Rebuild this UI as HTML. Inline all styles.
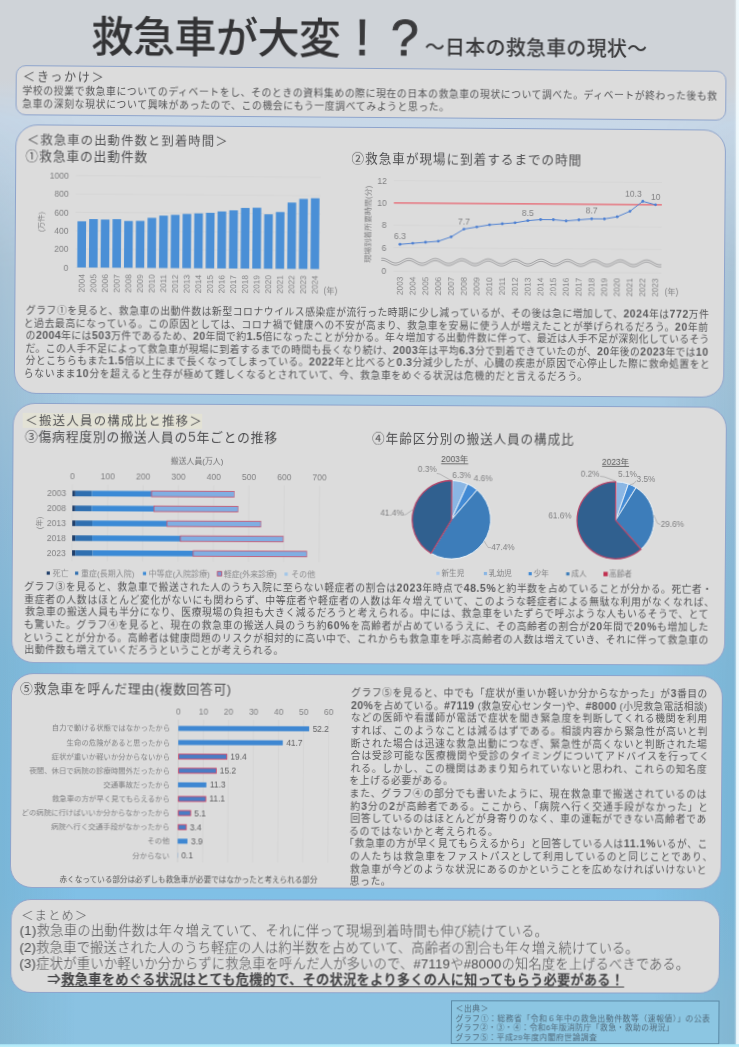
<!DOCTYPE html>
<html lang="ja"><head><meta charset="utf-8"><title>救急車が大変！？</title>
<style>
html,body{margin:0;padding:0;}
body{width:739px;height:1047px;overflow:hidden;position:relative;background:#eaf6fb;
 font-family:"Liberation Sans","Noto Sans CJK JP",sans-serif;color:#4e4e50;}
.t{font-weight:400;color:#535355;}
#poster{position:absolute;left:0;top:0;width:739px;height:1047px;transform-origin:0 0;filter:blur(0.3px);transform:matrix3d(1.00536277,0.00857046193,0,7.63127946e-06,-0.00602171815,1.00313472,0,2.0370582e-06,0,0,1,0,1.12092474,-1.21924433,0,1);}
#bg{position:absolute;left:-30px;top:-30px;width:800px;height:1110px;
 background:linear-gradient(180deg,#cfd3d8 0px,#cfd3d8 110px,#c8d8e8 150px,#b8d0e4 280px,#a6cae4 430px,#98c4e4 530px,#84c0e4 697px,#80c0e6 810px,#80c0e6 923px,#8ac2e2 1030px,#8cc2e0 1110px);}
#vig{position:absolute;left:-30px;top:-30px;width:800px;height:1110px;
 background:linear-gradient(90deg,rgba(70,100,100,0.17) 0px,rgba(70,100,100,0.10) 40px,rgba(70,100,100,0) 110px,rgba(70,100,100,0) 690px,rgba(70,100,100,0.10) 760px,rgba(70,100,100,0.17) 800px);
 -webkit-mask-image:linear-gradient(180deg,transparent 120px,#000 300px);mask-image:linear-gradient(180deg,transparent 120px,#000 300px);}
.box{position:absolute;background:#dcdcdc;border:1px solid #8ea4cc;box-sizing:border-box;}
.t{position:absolute;white-space:nowrap;}
.b{font-family:"Liberation Sans","Noto Sans CJK JP",sans-serif;font-weight:bold;font-size:1.08em;color:#5a5a5c;}
svg{position:absolute;overflow:visible;}
svg text{font-family:"Liberation Sans","Noto Sans CJK JP",sans-serif;font-weight:400;}
svg text.j{font-weight:300;}
</style></head><body>
<div id="poster"><div id="bg"></div><div id="vig"></div>
<div class="t" id="title" style="left:90.00px;top:12.66px;font-size:42px;line-height:50.40px;color:#343436;font-weight:500;letter-spacing:-0.583px;">救急車が大変</div>
<div class="t" style="left:340.5px;top:11.2px;width:40px;text-align:center;font-family:'Liberation Sans',sans-serif;font-size:50px;line-height:50px;color:#3a3a3c;font-weight:normal;-webkit-text-stroke:0.9px #3a3a3c;">!</div>
<div class="t" style="left:382.8px;top:11.2px;width:40px;text-align:center;font-family:'Liberation Sans',sans-serif;font-size:50px;line-height:50px;color:#3a3a3c;font-weight:normal;-webkit-text-stroke:0.9px #3a3a3c;">?</div>
<div class="t" id="sub" style="left:423.00px;top:32.90px;font-size:20px;line-height:24.00px;color:#3a3a3c;font-weight:500;letter-spacing:0.300px;">～日本の救急車の現状～</div>
<div class="box" style="left:15px;top:66px;width:710.9px;height:50px;border-radius:10px;"></div>
<div class="t" id="kh" style="left:22.10px;top:70.55px;font-size:12.2px;line-height:14.64px;color:#545456;letter-spacing:1.600px;">＜きっかけ＞</div>
<div class="t" id="k1" style="left:21.70px;top:86.41px;font-size:9.8px;line-height:11.76px;letter-spacing:0.614px;">学校の授業で救急車についてのディベートをし、そのときの資料集めの際に現在の日本の救急車の現状について調べた。ディベートが終わった後も救</div>
<div class="t" id="k2" style="left:21.60px;top:98.91px;font-size:9.8px;line-height:11.76px;letter-spacing:0.649px;">急車の深刻な現状について興味があったので、この機会にもう一度調べてみようと思った。</div>
<div class="box" style="left:14.5px;top:124.5px;width:711.9px;height:269px;border-radius:22px;"></div>
<div class="t" id="b1h" style="left:26.40px;top:134.33px;font-size:12.4px;line-height:14.88px;color:#545456;letter-spacing:1.019px;">＜救急車の出動件数と到着時間＞</div>
<div class="t" id="b1h1" style="left:25.30px;top:149.82px;font-size:12.6px;line-height:15.12px;color:#4e4e50;letter-spacing:0.961px;">①救急車の出動件数</div>
<div class="t" id="b1h2" style="left:350.50px;top:149.82px;font-size:12.6px;line-height:15.12px;color:#4e4e50;letter-spacing:1.000px;">②救急車が現場に到着するまでの時間</div>
<svg width="739" height="1047" viewBox="0 0 739 1047" style="left:0;top:0;"><line x1="75.6" x2="320" y1="267.50" y2="267.50" stroke="#d3d3d3" stroke-width="0.7"/><text x="68.50" y="270.60" font-size="8.6" fill="#808082" text-anchor="end" >0</text><line x1="75.6" x2="320" y1="249.16" y2="249.16" stroke="#d3d3d3" stroke-width="0.7"/><text x="68.50" y="252.26" font-size="8.6" fill="#808082" text-anchor="end" >200</text><line x1="75.6" x2="320" y1="230.82" y2="230.82" stroke="#d3d3d3" stroke-width="0.7"/><text x="68.50" y="233.92" font-size="8.6" fill="#808082" text-anchor="end" >400</text><line x1="75.6" x2="320" y1="212.48" y2="212.48" stroke="#d3d3d3" stroke-width="0.7"/><text x="68.50" y="215.58" font-size="8.6" fill="#808082" text-anchor="end" >600</text><line x1="75.6" x2="320" y1="194.14" y2="194.14" stroke="#d3d3d3" stroke-width="0.7"/><text x="68.50" y="197.24" font-size="8.6" fill="#808082" text-anchor="end" >800</text><line x1="75.6" x2="320" y1="175.80" y2="175.80" stroke="#d3d3d3" stroke-width="0.7"/><text x="68.50" y="178.90" font-size="8.6" fill="#808082" text-anchor="end" >1000</text><rect x="77.40" y="221.37" width="8.6" height="46.13" fill="#4a8fd6"/><text x="84.70" y="274.00" font-size="8.3" fill="#808082" text-anchor="end" transform="rotate(-90 84.70 274)">2004</text><rect x="89.04" y="219.08" width="8.6" height="48.42" fill="#4a8fd6"/><text x="96.34" y="274.00" font-size="8.3" fill="#808082" text-anchor="end" transform="rotate(-90 96.34 274)">2005</text><rect x="100.68" y="219.45" width="8.6" height="48.05" fill="#4a8fd6"/><text x="107.98" y="274.00" font-size="8.3" fill="#808082" text-anchor="end" transform="rotate(-90 107.98 274)">2006</text><rect x="112.32" y="218.99" width="8.6" height="48.51" fill="#4a8fd6"/><text x="119.62" y="274.00" font-size="8.3" fill="#808082" text-anchor="end" transform="rotate(-90 119.62 274)">2007</text><rect x="123.96" y="220.73" width="8.6" height="46.77" fill="#4a8fd6"/><text x="131.26" y="274.00" font-size="8.3" fill="#808082" text-anchor="end" transform="rotate(-90 131.26 274)">2008</text><rect x="135.60" y="220.55" width="8.6" height="46.95" fill="#4a8fd6"/><text x="142.90" y="274.00" font-size="8.3" fill="#808082" text-anchor="end" transform="rotate(-90 142.90 274)">2009</text><rect x="147.24" y="217.43" width="8.6" height="50.07" fill="#4a8fd6"/><text x="154.54" y="274.00" font-size="8.3" fill="#808082" text-anchor="end" transform="rotate(-90 154.54 274)">2010</text><rect x="158.88" y="215.14" width="8.6" height="52.36" fill="#4a8fd6"/><text x="166.18" y="274.00" font-size="8.3" fill="#808082" text-anchor="end" transform="rotate(-90 166.18 274)">2011</text><rect x="170.52" y="214.31" width="8.6" height="53.19" fill="#4a8fd6"/><text x="177.82" y="274.00" font-size="8.3" fill="#808082" text-anchor="end" transform="rotate(-90 177.82 274)">2012</text><rect x="182.16" y="213.31" width="8.6" height="54.19" fill="#4a8fd6"/><text x="189.46" y="274.00" font-size="8.3" fill="#808082" text-anchor="end" transform="rotate(-90 189.46 274)">2013</text><rect x="193.80" y="212.66" width="8.6" height="54.84" fill="#4a8fd6"/><text x="201.10" y="274.00" font-size="8.3" fill="#808082" text-anchor="end" transform="rotate(-90 201.10 274)">2014</text><rect x="205.44" y="212.02" width="8.6" height="55.48" fill="#4a8fd6"/><text x="212.74" y="274.00" font-size="8.3" fill="#808082" text-anchor="end" transform="rotate(-90 212.74 274)">2015</text><rect x="217.08" y="210.55" width="8.6" height="56.95" fill="#4a8fd6"/><text x="224.38" y="274.00" font-size="8.3" fill="#808082" text-anchor="end" transform="rotate(-90 224.38 274)">2016</text><rect x="228.72" y="209.36" width="8.6" height="58.14" fill="#4a8fd6"/><text x="236.02" y="274.00" font-size="8.3" fill="#808082" text-anchor="end" transform="rotate(-90 236.02 274)">2017</text><rect x="240.36" y="206.89" width="8.6" height="60.61" fill="#4a8fd6"/><text x="247.66" y="274.00" font-size="8.3" fill="#808082" text-anchor="end" transform="rotate(-90 247.66 274)">2018</text><rect x="252.00" y="206.61" width="8.6" height="60.89" fill="#4a8fd6"/><text x="259.30" y="274.00" font-size="8.3" fill="#808082" text-anchor="end" transform="rotate(-90 259.30 274)">2019</text><rect x="263.64" y="213.12" width="8.6" height="54.38" fill="#4a8fd6"/><text x="270.94" y="274.00" font-size="8.3" fill="#808082" text-anchor="end" transform="rotate(-90 270.94 274)">2020</text><rect x="275.28" y="210.74" width="8.6" height="56.76" fill="#4a8fd6"/><text x="282.58" y="274.00" font-size="8.3" fill="#808082" text-anchor="end" transform="rotate(-90 282.58 274)">2021</text><rect x="286.92" y="201.20" width="8.6" height="66.30" fill="#4a8fd6"/><text x="294.22" y="274.00" font-size="8.3" fill="#808082" text-anchor="end" transform="rotate(-90 294.22 274)">2022</text><rect x="298.56" y="197.44" width="8.6" height="70.06" fill="#4a8fd6"/><text x="305.86" y="274.00" font-size="8.3" fill="#808082" text-anchor="end" transform="rotate(-90 305.86 274)">2023</text><rect x="310.20" y="196.71" width="8.6" height="70.79" fill="#4a8fd6"/><text x="317.50" y="274.00" font-size="8.3" fill="#808082" text-anchor="end" transform="rotate(-90 317.50 274)">2024</text><text x="44.00" y="222.20" font-size="7.6" fill="#808082" text-anchor="middle" transform="rotate(-90 44 222.2)">(万件)</text><text x="323.50" y="292.00" font-size="8.2" fill="#808082" text-anchor="start" >(年)</text></svg>
<svg width="739" height="1047" viewBox="0 0 739 1047" style="left:0;top:0;"><line x1="393.2" x2="662" y1="178.50" y2="178.50" stroke="#d3d3d3" stroke-width="0.7"/><line x1="393.2" x2="662" y1="223.22" y2="223.22" stroke="#d3d3d3" stroke-width="0.7"/><line x1="393.2" x2="662" y1="245.58" y2="245.58" stroke="#d3d3d3" stroke-width="0.7"/><line x1="393.2" x2="662" y1="269.3" y2="269.3" stroke="#d3d3d3" stroke-width="0.7"/><text x="386.00" y="181.60" font-size="8.6" fill="#808082" text-anchor="end" >12</text><text x="386.00" y="203.96" font-size="8.6" fill="#808082" text-anchor="end" >10</text><text x="386.00" y="226.32" font-size="8.6" fill="#808082" text-anchor="end" >8</text><text x="386.00" y="248.68" font-size="8.6" fill="#808082" text-anchor="end" >6</text><text x="386.00" y="272.40" font-size="8.6" fill="#808082" text-anchor="end" >0</text><polygon points="381.0,256.28 382.0,256.20 383.0,256.25 384.0,256.44 385.0,256.75 386.0,257.16 387.0,257.65 388.0,258.19 389.0,258.76 390.0,259.31 391.0,259.83 392.0,260.28 393.0,260.64 394.0,260.88 395.0,260.99 396.0,260.97 397.0,260.82 398.0,260.54 399.0,260.16 400.0,259.68 401.0,259.15 402.0,258.59 403.0,258.02 404.0,257.49 405.0,257.02 406.0,256.64 407.0,256.37 408.0,256.22 409.0,256.21 410.0,256.33 411.0,256.58 412.0,256.94 413.0,257.39 414.0,257.91 415.0,258.47 416.0,259.04 417.0,259.58 418.0,260.07 419.0,260.47 420.0,260.77 421.0,260.95 422.0,261.00 423.0,260.91 424.0,260.69 425.0,260.36 426.0,259.93 427.0,259.42 428.0,258.87 429.0,258.30 430.0,257.75 431.0,257.25 432.0,256.82 433.0,256.49 434.0,256.28 435.0,256.20 436.0,256.25 437.0,256.44 438.0,256.75 439.0,257.16 440.0,257.65 441.0,258.19 442.0,258.76 443.0,259.31 444.0,259.83 445.0,260.28 446.0,260.64 447.0,260.88 448.0,260.99 449.0,260.97 450.0,260.82 451.0,260.54 452.0,260.16 453.0,259.68 454.0,259.15 455.0,258.59 456.0,258.02 457.0,257.49 458.0,257.02 459.0,256.64 460.0,256.37 461.0,256.22 462.0,256.21 463.0,256.33 464.0,256.58 465.0,256.94 466.0,257.39 467.0,257.91 468.0,258.47 469.0,259.04 470.0,259.58 471.0,260.07 472.0,260.47 473.0,260.77 474.0,260.95 475.0,261.00 476.0,260.91 477.0,260.69 478.0,260.36 479.0,259.93 480.0,259.42 481.0,258.87 482.0,258.30 483.0,257.75 484.0,257.25 485.0,256.82 486.0,256.49 487.0,256.28 488.0,256.20 489.0,256.25 490.0,256.44 491.0,256.75 492.0,257.16 493.0,257.65 494.0,258.19 495.0,258.76 496.0,259.31 497.0,259.83 498.0,260.28 499.0,260.64 500.0,260.88 501.0,260.99 502.0,260.97 503.0,260.82 504.0,260.54 505.0,260.16 506.0,259.68 507.0,259.15 508.0,258.59 509.0,258.02 510.0,257.49 511.0,257.02 512.0,256.64 513.0,256.37 514.0,256.22 515.0,256.21 516.0,256.33 517.0,256.58 518.0,256.94 519.0,257.39 520.0,257.91 521.0,258.47 522.0,259.04 523.0,259.58 524.0,260.07 525.0,260.47 526.0,260.77 527.0,260.95 528.0,261.00 529.0,260.91 530.0,260.69 531.0,260.36 532.0,259.93 533.0,259.42 534.0,258.87 535.0,258.30 536.0,257.75 537.0,257.25 538.0,256.82 539.0,256.49 540.0,256.28 541.0,256.20 542.0,256.25 543.0,256.44 544.0,256.75 545.0,257.16 546.0,257.65 547.0,258.19 548.0,258.76 549.0,259.31 550.0,259.83 551.0,260.28 552.0,260.64 553.0,260.88 554.0,260.99 555.0,260.97 556.0,260.82 557.0,260.54 558.0,260.16 559.0,259.68 560.0,259.15 561.0,258.59 562.0,258.02 563.0,257.49 564.0,257.02 565.0,256.64 566.0,256.37 567.0,256.22 568.0,256.21 569.0,256.33 570.0,256.58 571.0,256.94 572.0,257.39 573.0,257.91 574.0,258.47 575.0,259.04 576.0,259.58 577.0,260.07 578.0,260.47 579.0,260.77 580.0,260.95 581.0,261.00 582.0,260.91 583.0,260.69 584.0,260.36 585.0,259.93 586.0,259.42 587.0,258.87 588.0,258.30 589.0,257.75 590.0,257.25 591.0,256.82 592.0,256.49 593.0,256.28 594.0,256.20 595.0,256.25 596.0,256.44 597.0,256.75 598.0,257.16 599.0,257.65 600.0,258.19 601.0,258.76 602.0,259.31 603.0,259.83 604.0,260.28 605.0,260.64 606.0,260.88 607.0,260.99 608.0,260.97 609.0,260.82 610.0,260.54 611.0,260.16 612.0,259.68 613.0,259.15 614.0,258.59 615.0,258.02 616.0,257.49 617.0,257.02 618.0,256.64 619.0,256.37 620.0,256.22 621.0,256.21 622.0,256.33 623.0,256.58 624.0,256.94 625.0,257.39 626.0,257.91 627.0,258.47 628.0,259.04 629.0,259.58 630.0,260.07 631.0,260.47 632.0,260.77 633.0,260.95 634.0,261.00 635.0,260.91 636.0,260.69 637.0,260.36 638.0,259.93 639.0,259.42 640.0,258.87 641.0,258.30 642.0,257.75 643.0,257.25 644.0,256.82 645.0,256.49 646.0,256.28 647.0,256.20 648.0,256.25 649.0,256.44 650.0,256.75 651.0,257.16 652.0,257.65 653.0,258.19 654.0,258.76 655.0,259.31 656.0,259.83 657.0,260.28 658.0,260.64 659.0,260.88 660.0,260.99 661.0,260.97 662.0,260.82 662.0,263.02 661.0,263.17 660.0,263.19 659.0,263.08 658.0,262.84 657.0,262.48 656.0,262.03 655.0,261.51 654.0,260.96 653.0,260.39 652.0,259.85 651.0,259.36 650.0,258.95 649.0,258.64 648.0,258.45 647.0,258.40 646.0,258.48 645.0,258.69 644.0,259.02 643.0,259.45 642.0,259.95 641.0,260.50 640.0,261.07 639.0,261.62 638.0,262.13 637.0,262.56 636.0,262.89 635.0,263.11 634.0,263.20 633.0,263.15 632.0,262.97 631.0,262.67 630.0,262.27 629.0,261.78 628.0,261.24 627.0,260.67 626.0,260.11 625.0,259.59 624.0,259.14 623.0,258.78 622.0,258.53 621.0,258.41 620.0,258.42 619.0,258.57 618.0,258.84 617.0,259.22 616.0,259.69 615.0,260.22 614.0,260.79 613.0,261.35 612.0,261.88 611.0,262.36 610.0,262.74 609.0,263.02 608.0,263.17 607.0,263.19 606.0,263.08 605.0,262.84 604.0,262.48 603.0,262.03 602.0,261.51 601.0,260.96 600.0,260.39 599.0,259.85 598.0,259.36 597.0,258.95 596.0,258.64 595.0,258.45 594.0,258.40 593.0,258.48 592.0,258.69 591.0,259.02 590.0,259.45 589.0,259.95 588.0,260.50 587.0,261.07 586.0,261.62 585.0,262.13 584.0,262.56 583.0,262.89 582.0,263.11 581.0,263.20 580.0,263.15 579.0,262.97 578.0,262.67 577.0,262.27 576.0,261.78 575.0,261.24 574.0,260.67 573.0,260.11 572.0,259.59 571.0,259.14 570.0,258.78 569.0,258.53 568.0,258.41 567.0,258.42 566.0,258.57 565.0,258.84 564.0,259.22 563.0,259.69 562.0,260.22 561.0,260.79 560.0,261.35 559.0,261.88 558.0,262.36 557.0,262.74 556.0,263.02 555.0,263.17 554.0,263.19 553.0,263.08 552.0,262.84 551.0,262.48 550.0,262.03 549.0,261.51 548.0,260.96 547.0,260.39 546.0,259.85 545.0,259.36 544.0,258.95 543.0,258.64 542.0,258.45 541.0,258.40 540.0,258.48 539.0,258.69 538.0,259.02 537.0,259.45 536.0,259.95 535.0,260.50 534.0,261.07 533.0,261.62 532.0,262.13 531.0,262.56 530.0,262.89 529.0,263.11 528.0,263.20 527.0,263.15 526.0,262.97 525.0,262.67 524.0,262.27 523.0,261.78 522.0,261.24 521.0,260.67 520.0,260.11 519.0,259.59 518.0,259.14 517.0,258.78 516.0,258.53 515.0,258.41 514.0,258.42 513.0,258.57 512.0,258.84 511.0,259.22 510.0,259.69 509.0,260.22 508.0,260.79 507.0,261.35 506.0,261.88 505.0,262.36 504.0,262.74 503.0,263.02 502.0,263.17 501.0,263.19 500.0,263.08 499.0,262.84 498.0,262.48 497.0,262.03 496.0,261.51 495.0,260.96 494.0,260.39 493.0,259.85 492.0,259.36 491.0,258.95 490.0,258.64 489.0,258.45 488.0,258.40 487.0,258.48 486.0,258.69 485.0,259.02 484.0,259.45 483.0,259.95 482.0,260.50 481.0,261.07 480.0,261.62 479.0,262.13 478.0,262.56 477.0,262.89 476.0,263.11 475.0,263.20 474.0,263.15 473.0,262.97 472.0,262.67 471.0,262.27 470.0,261.78 469.0,261.24 468.0,260.67 467.0,260.11 466.0,259.59 465.0,259.14 464.0,258.78 463.0,258.53 462.0,258.41 461.0,258.42 460.0,258.57 459.0,258.84 458.0,259.22 457.0,259.69 456.0,260.22 455.0,260.79 454.0,261.35 453.0,261.88 452.0,262.36 451.0,262.74 450.0,263.02 449.0,263.17 448.0,263.19 447.0,263.08 446.0,262.84 445.0,262.48 444.0,262.03 443.0,261.51 442.0,260.96 441.0,260.39 440.0,259.85 439.0,259.36 438.0,258.95 437.0,258.64 436.0,258.45 435.0,258.40 434.0,258.48 433.0,258.69 432.0,259.02 431.0,259.45 430.0,259.95 429.0,260.50 428.0,261.07 427.0,261.62 426.0,262.13 425.0,262.56 424.0,262.89 423.0,263.11 422.0,263.20 421.0,263.15 420.0,262.97 419.0,262.67 418.0,262.27 417.0,261.78 416.0,261.24 415.0,260.67 414.0,260.11 413.0,259.59 412.0,259.14 411.0,258.78 410.0,258.53 409.0,258.41 408.0,258.42 407.0,258.57 406.0,258.84 405.0,259.22 404.0,259.69 403.0,260.22 402.0,260.79 401.0,261.35 400.0,261.88 399.0,262.36 398.0,262.74 397.0,263.02 396.0,263.17 395.0,263.19 394.0,263.08 393.0,262.84 392.0,262.48 391.0,262.03 390.0,261.51 389.0,260.96 388.0,260.39 387.0,259.85 386.0,259.36 385.0,258.95 384.0,258.64 383.0,258.45 382.0,258.40 381.0,258.48" fill="#dcdcdc"/><polyline points="381.0,256.28 382.0,256.20 383.0,256.25 384.0,256.44 385.0,256.75 386.0,257.16 387.0,257.65 388.0,258.19 389.0,258.76 390.0,259.31 391.0,259.83 392.0,260.28 393.0,260.64 394.0,260.88 395.0,260.99 396.0,260.97 397.0,260.82 398.0,260.54 399.0,260.16 400.0,259.68 401.0,259.15 402.0,258.59 403.0,258.02 404.0,257.49 405.0,257.02 406.0,256.64 407.0,256.37 408.0,256.22 409.0,256.21 410.0,256.33 411.0,256.58 412.0,256.94 413.0,257.39 414.0,257.91 415.0,258.47 416.0,259.04 417.0,259.58 418.0,260.07 419.0,260.47 420.0,260.77 421.0,260.95 422.0,261.00 423.0,260.91 424.0,260.69 425.0,260.36 426.0,259.93 427.0,259.42 428.0,258.87 429.0,258.30 430.0,257.75 431.0,257.25 432.0,256.82 433.0,256.49 434.0,256.28 435.0,256.20 436.0,256.25 437.0,256.44 438.0,256.75 439.0,257.16 440.0,257.65 441.0,258.19 442.0,258.76 443.0,259.31 444.0,259.83 445.0,260.28 446.0,260.64 447.0,260.88 448.0,260.99 449.0,260.97 450.0,260.82 451.0,260.54 452.0,260.16 453.0,259.68 454.0,259.15 455.0,258.59 456.0,258.02 457.0,257.49 458.0,257.02 459.0,256.64 460.0,256.37 461.0,256.22 462.0,256.21 463.0,256.33 464.0,256.58 465.0,256.94 466.0,257.39 467.0,257.91 468.0,258.47 469.0,259.04 470.0,259.58 471.0,260.07 472.0,260.47 473.0,260.77 474.0,260.95 475.0,261.00 476.0,260.91 477.0,260.69 478.0,260.36 479.0,259.93 480.0,259.42 481.0,258.87 482.0,258.30 483.0,257.75 484.0,257.25 485.0,256.82 486.0,256.49 487.0,256.28 488.0,256.20 489.0,256.25 490.0,256.44 491.0,256.75 492.0,257.16 493.0,257.65 494.0,258.19 495.0,258.76 496.0,259.31 497.0,259.83 498.0,260.28 499.0,260.64 500.0,260.88 501.0,260.99 502.0,260.97 503.0,260.82 504.0,260.54 505.0,260.16 506.0,259.68 507.0,259.15 508.0,258.59 509.0,258.02 510.0,257.49 511.0,257.02 512.0,256.64 513.0,256.37 514.0,256.22 515.0,256.21 516.0,256.33 517.0,256.58 518.0,256.94 519.0,257.39 520.0,257.91 521.0,258.47 522.0,259.04 523.0,259.58 524.0,260.07 525.0,260.47 526.0,260.77 527.0,260.95 528.0,261.00 529.0,260.91 530.0,260.69 531.0,260.36 532.0,259.93 533.0,259.42 534.0,258.87 535.0,258.30 536.0,257.75 537.0,257.25 538.0,256.82 539.0,256.49 540.0,256.28 541.0,256.20 542.0,256.25 543.0,256.44 544.0,256.75 545.0,257.16 546.0,257.65 547.0,258.19 548.0,258.76 549.0,259.31 550.0,259.83 551.0,260.28 552.0,260.64 553.0,260.88 554.0,260.99 555.0,260.97 556.0,260.82 557.0,260.54 558.0,260.16 559.0,259.68 560.0,259.15 561.0,258.59 562.0,258.02 563.0,257.49 564.0,257.02 565.0,256.64 566.0,256.37 567.0,256.22 568.0,256.21 569.0,256.33 570.0,256.58 571.0,256.94 572.0,257.39 573.0,257.91 574.0,258.47 575.0,259.04 576.0,259.58 577.0,260.07 578.0,260.47 579.0,260.77 580.0,260.95 581.0,261.00 582.0,260.91 583.0,260.69 584.0,260.36 585.0,259.93 586.0,259.42 587.0,258.87 588.0,258.30 589.0,257.75 590.0,257.25 591.0,256.82 592.0,256.49 593.0,256.28 594.0,256.20 595.0,256.25 596.0,256.44 597.0,256.75 598.0,257.16 599.0,257.65 600.0,258.19 601.0,258.76 602.0,259.31 603.0,259.83 604.0,260.28 605.0,260.64 606.0,260.88 607.0,260.99 608.0,260.97 609.0,260.82 610.0,260.54 611.0,260.16 612.0,259.68 613.0,259.15 614.0,258.59 615.0,258.02 616.0,257.49 617.0,257.02 618.0,256.64 619.0,256.37 620.0,256.22 621.0,256.21 622.0,256.33 623.0,256.58 624.0,256.94 625.0,257.39 626.0,257.91 627.0,258.47 628.0,259.04 629.0,259.58 630.0,260.07 631.0,260.47 632.0,260.77 633.0,260.95 634.0,261.00 635.0,260.91 636.0,260.69 637.0,260.36 638.0,259.93 639.0,259.42 640.0,258.87 641.0,258.30 642.0,257.75 643.0,257.25 644.0,256.82 645.0,256.49 646.0,256.28 647.0,256.20 648.0,256.25 649.0,256.44 650.0,256.75 651.0,257.16 652.0,257.65 653.0,258.19 654.0,258.76 655.0,259.31 656.0,259.83 657.0,260.28 658.0,260.64 659.0,260.88 660.0,260.99 661.0,260.97 662.0,260.82" fill="none" stroke="#8a8a8c" stroke-width="0.7"/><polyline points="381.0,258.48 382.0,258.40 383.0,258.45 384.0,258.64 385.0,258.95 386.0,259.36 387.0,259.85 388.0,260.39 389.0,260.96 390.0,261.51 391.0,262.03 392.0,262.48 393.0,262.84 394.0,263.08 395.0,263.19 396.0,263.17 397.0,263.02 398.0,262.74 399.0,262.36 400.0,261.88 401.0,261.35 402.0,260.79 403.0,260.22 404.0,259.69 405.0,259.22 406.0,258.84 407.0,258.57 408.0,258.42 409.0,258.41 410.0,258.53 411.0,258.78 412.0,259.14 413.0,259.59 414.0,260.11 415.0,260.67 416.0,261.24 417.0,261.78 418.0,262.27 419.0,262.67 420.0,262.97 421.0,263.15 422.0,263.20 423.0,263.11 424.0,262.89 425.0,262.56 426.0,262.13 427.0,261.62 428.0,261.07 429.0,260.50 430.0,259.95 431.0,259.45 432.0,259.02 433.0,258.69 434.0,258.48 435.0,258.40 436.0,258.45 437.0,258.64 438.0,258.95 439.0,259.36 440.0,259.85 441.0,260.39 442.0,260.96 443.0,261.51 444.0,262.03 445.0,262.48 446.0,262.84 447.0,263.08 448.0,263.19 449.0,263.17 450.0,263.02 451.0,262.74 452.0,262.36 453.0,261.88 454.0,261.35 455.0,260.79 456.0,260.22 457.0,259.69 458.0,259.22 459.0,258.84 460.0,258.57 461.0,258.42 462.0,258.41 463.0,258.53 464.0,258.78 465.0,259.14 466.0,259.59 467.0,260.11 468.0,260.67 469.0,261.24 470.0,261.78 471.0,262.27 472.0,262.67 473.0,262.97 474.0,263.15 475.0,263.20 476.0,263.11 477.0,262.89 478.0,262.56 479.0,262.13 480.0,261.62 481.0,261.07 482.0,260.50 483.0,259.95 484.0,259.45 485.0,259.02 486.0,258.69 487.0,258.48 488.0,258.40 489.0,258.45 490.0,258.64 491.0,258.95 492.0,259.36 493.0,259.85 494.0,260.39 495.0,260.96 496.0,261.51 497.0,262.03 498.0,262.48 499.0,262.84 500.0,263.08 501.0,263.19 502.0,263.17 503.0,263.02 504.0,262.74 505.0,262.36 506.0,261.88 507.0,261.35 508.0,260.79 509.0,260.22 510.0,259.69 511.0,259.22 512.0,258.84 513.0,258.57 514.0,258.42 515.0,258.41 516.0,258.53 517.0,258.78 518.0,259.14 519.0,259.59 520.0,260.11 521.0,260.67 522.0,261.24 523.0,261.78 524.0,262.27 525.0,262.67 526.0,262.97 527.0,263.15 528.0,263.20 529.0,263.11 530.0,262.89 531.0,262.56 532.0,262.13 533.0,261.62 534.0,261.07 535.0,260.50 536.0,259.95 537.0,259.45 538.0,259.02 539.0,258.69 540.0,258.48 541.0,258.40 542.0,258.45 543.0,258.64 544.0,258.95 545.0,259.36 546.0,259.85 547.0,260.39 548.0,260.96 549.0,261.51 550.0,262.03 551.0,262.48 552.0,262.84 553.0,263.08 554.0,263.19 555.0,263.17 556.0,263.02 557.0,262.74 558.0,262.36 559.0,261.88 560.0,261.35 561.0,260.79 562.0,260.22 563.0,259.69 564.0,259.22 565.0,258.84 566.0,258.57 567.0,258.42 568.0,258.41 569.0,258.53 570.0,258.78 571.0,259.14 572.0,259.59 573.0,260.11 574.0,260.67 575.0,261.24 576.0,261.78 577.0,262.27 578.0,262.67 579.0,262.97 580.0,263.15 581.0,263.20 582.0,263.11 583.0,262.89 584.0,262.56 585.0,262.13 586.0,261.62 587.0,261.07 588.0,260.50 589.0,259.95 590.0,259.45 591.0,259.02 592.0,258.69 593.0,258.48 594.0,258.40 595.0,258.45 596.0,258.64 597.0,258.95 598.0,259.36 599.0,259.85 600.0,260.39 601.0,260.96 602.0,261.51 603.0,262.03 604.0,262.48 605.0,262.84 606.0,263.08 607.0,263.19 608.0,263.17 609.0,263.02 610.0,262.74 611.0,262.36 612.0,261.88 613.0,261.35 614.0,260.79 615.0,260.22 616.0,259.69 617.0,259.22 618.0,258.84 619.0,258.57 620.0,258.42 621.0,258.41 622.0,258.53 623.0,258.78 624.0,259.14 625.0,259.59 626.0,260.11 627.0,260.67 628.0,261.24 629.0,261.78 630.0,262.27 631.0,262.67 632.0,262.97 633.0,263.15 634.0,263.20 635.0,263.11 636.0,262.89 637.0,262.56 638.0,262.13 639.0,261.62 640.0,261.07 641.0,260.50 642.0,259.95 643.0,259.45 644.0,259.02 645.0,258.69 646.0,258.48 647.0,258.40 648.0,258.45 649.0,258.64 650.0,258.95 651.0,259.36 652.0,259.85 653.0,260.39 654.0,260.96 655.0,261.51 656.0,262.03 657.0,262.48 658.0,262.84 659.0,263.08 660.0,263.19 661.0,263.17 662.0,263.02" fill="none" stroke="#8a8a8c" stroke-width="0.7"/><line x1="393.2" x2="662" y1="200.86" y2="200.86" stroke="#e8606c" stroke-width="1.3"/><polyline points="399.60,242.23 412.40,241.11 425.20,239.99 438.00,238.87 450.80,234.40 463.60,226.57 476.40,224.34 489.20,222.10 502.00,220.98 514.80,219.87 527.60,217.63 540.40,216.51 553.20,216.51 566.00,217.63 578.80,216.51 591.60,215.39 604.40,215.39 617.20,213.16 630.00,207.57 642.80,197.51 655.60,200.86" fill="none" stroke="#5283d2" stroke-width="1.0"/><circle cx="399.60" cy="242.23" r="1.4" fill="#4c7fd2"/><circle cx="412.40" cy="241.11" r="1.4" fill="#4c7fd2"/><circle cx="425.20" cy="239.99" r="1.4" fill="#4c7fd2"/><circle cx="438.00" cy="238.87" r="1.4" fill="#4c7fd2"/><circle cx="450.80" cy="234.40" r="1.4" fill="#4c7fd2"/><circle cx="463.60" cy="226.57" r="1.4" fill="#4c7fd2"/><circle cx="476.40" cy="224.34" r="1.4" fill="#4c7fd2"/><circle cx="489.20" cy="222.10" r="1.4" fill="#4c7fd2"/><circle cx="502.00" cy="220.98" r="1.4" fill="#4c7fd2"/><circle cx="514.80" cy="219.87" r="1.4" fill="#4c7fd2"/><circle cx="527.60" cy="217.63" r="1.4" fill="#4c7fd2"/><circle cx="540.40" cy="216.51" r="1.4" fill="#4c7fd2"/><circle cx="553.20" cy="216.51" r="1.4" fill="#4c7fd2"/><circle cx="566.00" cy="217.63" r="1.4" fill="#4c7fd2"/><circle cx="578.80" cy="216.51" r="1.4" fill="#4c7fd2"/><circle cx="591.60" cy="215.39" r="1.4" fill="#4c7fd2"/><circle cx="604.40" cy="215.39" r="1.4" fill="#4c7fd2"/><circle cx="617.20" cy="213.16" r="1.4" fill="#4c7fd2"/><circle cx="630.00" cy="207.57" r="1.4" fill="#4c7fd2"/><circle cx="642.80" cy="197.51" r="1.4" fill="#4c7fd2"/><circle cx="655.60" cy="200.86" r="1.4" fill="#4c7fd2"/><text x="399.60" y="237.23" font-size="8.6" fill="#808082" text-anchor="middle" >6.3</text><text x="463.60" y="221.57" font-size="8.6" fill="#808082" text-anchor="middle" >7.7</text><text x="527.60" y="212.63" font-size="8.6" fill="#808082" text-anchor="middle" >8.5</text><text x="591.60" y="210.39" font-size="8.6" fill="#808082" text-anchor="middle" >8.7</text><text x="633.40" y="193.01" font-size="8.6" fill="#808082" text-anchor="middle" >10.3</text><text x="655.80" y="195.66" font-size="8.6" fill="#808082" text-anchor="middle" >10</text><text x="402.60" y="274.60" font-size="8.3" fill="#808082" text-anchor="end" transform="rotate(-90 402.60 274.6)">2003</text><text x="415.40" y="274.60" font-size="8.3" fill="#808082" text-anchor="end" transform="rotate(-90 415.40 274.6)">2004</text><text x="428.20" y="274.60" font-size="8.3" fill="#808082" text-anchor="end" transform="rotate(-90 428.20 274.6)">2005</text><text x="441.00" y="274.60" font-size="8.3" fill="#808082" text-anchor="end" transform="rotate(-90 441.00 274.6)">2006</text><text x="453.80" y="274.60" font-size="8.3" fill="#808082" text-anchor="end" transform="rotate(-90 453.80 274.6)">2007</text><text x="466.60" y="274.60" font-size="8.3" fill="#808082" text-anchor="end" transform="rotate(-90 466.60 274.6)">2008</text><text x="479.40" y="274.60" font-size="8.3" fill="#808082" text-anchor="end" transform="rotate(-90 479.40 274.6)">2009</text><text x="492.20" y="274.60" font-size="8.3" fill="#808082" text-anchor="end" transform="rotate(-90 492.20 274.6)">2010</text><text x="505.00" y="274.60" font-size="8.3" fill="#808082" text-anchor="end" transform="rotate(-90 505.00 274.6)">2011</text><text x="517.80" y="274.60" font-size="8.3" fill="#808082" text-anchor="end" transform="rotate(-90 517.80 274.6)">2012</text><text x="530.60" y="274.60" font-size="8.3" fill="#808082" text-anchor="end" transform="rotate(-90 530.60 274.6)">2013</text><text x="543.40" y="274.60" font-size="8.3" fill="#808082" text-anchor="end" transform="rotate(-90 543.40 274.6)">2014</text><text x="556.20" y="274.60" font-size="8.3" fill="#808082" text-anchor="end" transform="rotate(-90 556.20 274.6)">2015</text><text x="569.00" y="274.60" font-size="8.3" fill="#808082" text-anchor="end" transform="rotate(-90 569.00 274.6)">2016</text><text x="581.80" y="274.60" font-size="8.3" fill="#808082" text-anchor="end" transform="rotate(-90 581.80 274.6)">2017</text><text x="594.60" y="274.60" font-size="8.3" fill="#808082" text-anchor="end" transform="rotate(-90 594.60 274.6)">2018</text><text x="607.40" y="274.60" font-size="8.3" fill="#808082" text-anchor="end" transform="rotate(-90 607.40 274.6)">2019</text><text x="620.20" y="274.60" font-size="8.3" fill="#808082" text-anchor="end" transform="rotate(-90 620.20 274.6)">2020</text><text x="633.00" y="274.60" font-size="8.3" fill="#808082" text-anchor="end" transform="rotate(-90 633.00 274.6)">2021</text><text x="645.80" y="274.60" font-size="8.3" fill="#808082" text-anchor="end" transform="rotate(-90 645.80 274.6)">2022</text><text x="658.60" y="274.60" font-size="8.3" fill="#808082" text-anchor="end" transform="rotate(-90 658.60 274.6)">2023</text><text x="370.70" y="222.60" font-size="8.0" fill="#808082" text-anchor="middle" transform="rotate(-90 370.4 222.6)">現場到着所要時間(分)</text><text x="665.50" y="290.80" font-size="8.2" fill="#808082" text-anchor="start" >(年)</text></svg>
<div class="t" id="p1_0" style="left:26.40px;top:305.21px;font-size:9.8px;line-height:11.76px;letter-spacing:0.542px;">グラフ①を見ると、救急車の出動件数は新型コロナウイルス感染症が流行った時期に少し減っているが、その後は急に増加して、<span class="b">2024</span>年は<span class="b">772</span>万件</div>
<div class="t" id="p1_1" style="left:24.40px;top:317.71px;font-size:9.8px;line-height:11.76px;letter-spacing:0.588px;">と過去最高になっている。この原因としては、コロナ禍で健康への不安が高まり、救急車を安易に使う人が増えたことが挙げられるだろう。<span class="b">20</span>年前</div>
<div class="t" id="p1_2" style="left:26.40px;top:330.21px;font-size:9.8px;line-height:11.76px;letter-spacing:0.424px;">の<span class="b">2004</span>年には<span class="b">503</span>万件であるため、<span class="b">20</span>年間で約<span class="b">1.5</span>倍になったことが分かる。年々増加する出動件数に伴って、最近は人手不足が深刻化しているそう</div>
<div class="t" id="p1_3" style="left:26.40px;top:342.71px;font-size:9.8px;line-height:11.76px;letter-spacing:0.435px;">だ。この人手不足によって救急車が現場に到着するまでの時間も長くなり続け、<span class="b">2003</span>年は平均<span class="b">6.3</span>分で到着できていたのが、<span class="b">20</span>年後の<span class="b">2023</span>年では<span class="b">10</span></div>
<div class="t" id="p1_4" style="left:26.40px;top:355.21px;font-size:9.8px;line-height:11.76px;letter-spacing:0.512px;">分とこちらもまた<span class="b">1.5</span>倍以上にまで長くなってしまっている。<span class="b">2022</span>年と比べると<span class="b">0.3</span>分減少したが、心臓の疾患が原因で心停止した際に救命処置をと</div>
<div class="t" id="p1_5" style="left:24.80px;top:367.71px;font-size:9.8px;line-height:11.76px;letter-spacing:0.654px;">らないまま<span class="b">10</span>分を超えると生存が極めて難しくなるとされていて、今、救急車をめぐる状況は危機的だと言えるだろう。</div>
<div class="box" style="left:14px;top:403.4px;width:714.7px;height:259.6px;border-radius:22px;"></div>
<div style="position:absolute;left:23.9px;top:413.1px;width:179.6px;height:14.5px;background:#e3e2d5;"></div>
<div class="t" id="b2h" style="left:26.50px;top:413.53px;font-size:12.4px;line-height:14.88px;color:#545456;letter-spacing:1.251px;">＜搬送人員の構成比と推移＞</div>
<div class="t" id="b2h1" style="left:26.20px;top:429.20px;font-size:12.8px;line-height:15.36px;color:#4a4a4c;letter-spacing:0.770px;">③傷病程度別の搬送人員の<span class="b" style="font-weight:normal">5</span>年ごとの推移</div>
<div class="t" id="b2h2" style="left:373.10px;top:429.82px;font-size:12.6px;line-height:15.12px;color:#4e4e50;letter-spacing:0.929px;">④年齢区分別の搬送人員の構成比</div>
<svg width="739" height="1047" viewBox="0 0 739 1047" style="left:0;top:0;"><line x1="74.00" x2="74.00" y1="484.5" y2="561" stroke="#d3d3d3" stroke-width="0.7"/><text x="74.00" y="478.60" font-size="8.6" fill="#808082" text-anchor="middle" >0</text><line x1="109.24" x2="109.24" y1="484.5" y2="561" stroke="#d3d3d3" stroke-width="0.7"/><text x="109.24" y="478.60" font-size="8.6" fill="#808082" text-anchor="middle" >100</text><line x1="144.48" x2="144.48" y1="484.5" y2="561" stroke="#d3d3d3" stroke-width="0.7"/><text x="144.48" y="478.60" font-size="8.6" fill="#808082" text-anchor="middle" >200</text><line x1="179.72" x2="179.72" y1="484.5" y2="561" stroke="#d3d3d3" stroke-width="0.7"/><text x="179.72" y="478.60" font-size="8.6" fill="#808082" text-anchor="middle" >300</text><line x1="214.96" x2="214.96" y1="484.5" y2="561" stroke="#d3d3d3" stroke-width="0.7"/><text x="214.96" y="478.60" font-size="8.6" fill="#808082" text-anchor="middle" >400</text><line x1="250.20" x2="250.20" y1="484.5" y2="561" stroke="#d3d3d3" stroke-width="0.7"/><text x="250.20" y="478.60" font-size="8.6" fill="#808082" text-anchor="middle" >500</text><line x1="285.44" x2="285.44" y1="484.5" y2="561" stroke="#d3d3d3" stroke-width="0.7"/><text x="285.44" y="478.60" font-size="8.6" fill="#808082" text-anchor="middle" >600</text><line x1="320.68" x2="320.68" y1="484.5" y2="561" stroke="#d3d3d3" stroke-width="0.7"/><text x="320.68" y="478.60" font-size="8.6" fill="#808082" text-anchor="middle" >700</text><text x="198.10" y="463.40" font-size="7.9" fill="#6e6e70" text-anchor="middle" >搬送人員(万人)</text><rect x="74.00" y="490.50" width="2.82" height="5.6" fill="#203f6a"/><rect x="76.82" y="490.50" width="16.56" height="5.6" fill="#2f6fb0"/><rect x="93.38" y="490.50" width="59.56" height="5.6" fill="#3b8ad6"/><rect x="152.94" y="490.50" width="82.46" height="5.6" fill="#80aee2" stroke="#c8506a" stroke-width="0.8"/><rect x="235.40" y="490.50" width="0.35" height="5.6" fill="#a0c6ea"/><text x="67.80" y="496.40" font-size="8.6" fill="#808082" text-anchor="end" >2003</text><rect x="74.00" y="505.38" width="2.82" height="5.6" fill="#203f6a"/><rect x="76.82" y="505.38" width="16.56" height="5.6" fill="#2f6fb0"/><rect x="93.38" y="505.38" width="62.02" height="5.6" fill="#3b8ad6"/><rect x="155.40" y="505.38" width="83.87" height="5.6" fill="#80aee2" stroke="#c8506a" stroke-width="0.8"/><rect x="239.28" y="505.38" width="0.35" height="5.6" fill="#a0c6ea"/><text x="67.80" y="511.28" font-size="8.6" fill="#808082" text-anchor="end" >2008</text><rect x="74.00" y="520.26" width="3.17" height="5.6" fill="#203f6a"/><rect x="77.17" y="520.26" width="16.92" height="5.6" fill="#2f6fb0"/><rect x="94.09" y="520.26" width="74.57" height="5.6" fill="#3b8ad6"/><rect x="168.65" y="520.26" width="93.53" height="5.6" fill="#80aee2" stroke="#c8506a" stroke-width="0.8"/><rect x="262.18" y="520.26" width="0.35" height="5.6" fill="#a0c6ea"/><text x="67.80" y="526.16" font-size="8.6" fill="#808082" text-anchor="end" >2013</text><rect x="74.00" y="535.14" width="3.17" height="5.6" fill="#203f6a"/><rect x="77.17" y="535.14" width="16.92" height="5.6" fill="#2f6fb0"/><rect x="94.09" y="535.14" width="87.92" height="5.6" fill="#3b8ad6"/><rect x="182.01" y="535.14" width="102.72" height="5.6" fill="#80aee2" stroke="#c8506a" stroke-width="0.8"/><rect x="284.74" y="535.14" width="0.35" height="5.6" fill="#a0c6ea"/><text x="67.80" y="541.04" font-size="8.6" fill="#808082" text-anchor="end" >2018</text><rect x="74.00" y="550.02" width="3.17" height="5.6" fill="#203f6a"/><rect x="77.17" y="550.02" width="17.27" height="5.6" fill="#2f6fb0"/><rect x="94.44" y="550.02" width="100.43" height="5.6" fill="#3b8ad6"/><rect x="194.87" y="550.02" width="113.47" height="5.6" fill="#80aee2" stroke="#c8506a" stroke-width="0.8"/><rect x="308.35" y="550.02" width="0.35" height="5.6" fill="#a0c6ea"/><text x="67.80" y="555.92" font-size="8.6" fill="#808082" text-anchor="end" >2023</text><text x="44.10" y="522.90" font-size="7.6" fill="#808082" text-anchor="middle" transform="rotate(-90 44.1 522.9)">(年)</text><rect x="48.80" y="571.40" width="3.2" height="3.2" fill="#203f6a"/><text x="54.80" y="575.80" font-size="8.0" fill="#8a8a8c" text-anchor="start" >死亡</text><rect x="77.10" y="571.40" width="3.2" height="3.2" fill="#2f6fb0"/><text x="83.10" y="575.80" font-size="8.0" fill="#8a8a8c" text-anchor="start" >重症(長期入院)</text><rect x="144.80" y="571.40" width="3.2" height="3.2" fill="#3b8ad6"/><text x="150.50" y="575.80" font-size="8.0" fill="#8a8a8c" text-anchor="start" >中等症(入院診療)</text><rect x="219.10" y="570.70" width="4.4" height="4.4" fill="#7f9ad6" stroke="#b84a6a" stroke-width="0.8"/><text x="225.40" y="575.80" font-size="8.0" fill="#8a8a8c" text-anchor="start" >軽症(外来診療)</text><rect x="286.30" y="571.40" width="3.2" height="3.2" fill="#a0c6ea"/><text x="293.10" y="575.80" font-size="8.0" fill="#8a8a8c" text-anchor="start" >その他</text></svg>
<svg width="739" height="1047" viewBox="0 0 739 1047" style="left:0;top:0;"><path d="M453.10,517.80 L453.10,478.50 A39.3,39.3 0 0 1 453.84,478.51 Z" fill="#a8c8ee" stroke="#f4f8fc" stroke-width="0.9" stroke-linejoin="round"/><path d="M453.10,517.80 L453.84,478.51 A39.3,39.3 0 0 1 468.93,481.83 Z" fill="#8ab6e4" stroke="#f4f8fc" stroke-width="0.9" stroke-linejoin="round"/><path d="M453.10,517.80 L468.93,481.83 A39.3,39.3 0 0 1 478.53,487.84 Z" fill="#428ad4" stroke="#f4f8fc" stroke-width="0.9" stroke-linejoin="round"/><path d="M453.10,517.80 L478.53,487.84 A39.3,39.3 0 0 1 432.88,551.50 Z" fill="#3d7dba" stroke="#f4f8fc" stroke-width="0.9" stroke-linejoin="round"/><path d="M453.10,517.80 L432.88,551.50 A39.3,39.3 0 0 1 453.10,478.50 Z" fill="#30608f" stroke="#b4466a" stroke-width="1.3" stroke-linejoin="round"/><path d="M617.80,517.60 L617.80,478.90 A38.7,38.7 0 0 1 618.29,478.90 Z" fill="#a8c8ee" stroke="#f4f8fc" stroke-width="0.9" stroke-linejoin="round"/><path d="M617.80,517.60 L618.29,478.90 A38.7,38.7 0 0 1 630.45,481.03 Z" fill="#8ab6e4" stroke="#f4f8fc" stroke-width="0.9" stroke-linejoin="round"/><path d="M617.80,517.60 L630.45,481.03 A38.7,38.7 0 0 1 638.12,484.67 Z" fill="#428ad4" stroke="#f4f8fc" stroke-width="0.9" stroke-linejoin="round"/><path d="M617.80,517.60 L638.12,484.67 A38.7,38.7 0 0 1 643.57,546.47 Z" fill="#3d7dba" stroke="#f4f8fc" stroke-width="0.9" stroke-linejoin="round"/><path d="M617.80,517.60 L643.57,546.47 A38.7,38.7 0 1 1 617.80,478.90 Z" fill="#30608f" stroke="#b4466a" stroke-width="1.3" stroke-linejoin="round"/><text x="455.90" y="460.40" font-size="8.4" fill="#555" text-anchor="middle" text-decoration="underline" font-weight="bold">2003年</text><text x="617.40" y="462.00" font-size="8.4" fill="#555" text-anchor="middle" text-decoration="underline" font-weight="bold">2023年</text><text x="428.50" y="470.00" font-size="8.3" fill="#808082" text-anchor="middle" >0.3%</text><polyline points="438,471.5 441,472 452.5,478.5" fill="none" stroke="#8a8a8c" stroke-width="0.5"/><text x="463.00" y="476.00" font-size="8.3" fill="#808082" text-anchor="middle" >6.3%</text><text x="484.50" y="479.50" font-size="8.3" fill="#808082" text-anchor="middle" >4.6%</text><text x="393.50" y="514.50" font-size="8.3" fill="#808082" text-anchor="middle" >41.4%</text><polyline points="404,513 407,513 414,508" fill="none" stroke="#8a8a8c" stroke-width="0.5"/><text x="505.00" y="548.00" font-size="8.3" fill="#808082" text-anchor="middle" >47.4%</text><polyline points="493,545.5 490,545.5 486,539" fill="none" stroke="#8a8a8c" stroke-width="0.5"/><text x="592.00" y="474.00" font-size="8.3" fill="#808082" text-anchor="middle" >0.2%</text><polyline points="602,473.5 606,474 617,478" fill="none" stroke="#8a8a8c" stroke-width="0.5"/><text x="629.50" y="474.00" font-size="8.3" fill="#808082" text-anchor="middle" >5.1%</text><text x="648.00" y="479.50" font-size="8.3" fill="#808082" text-anchor="middle" >3.5%</text><polyline points="638,478 636,480.5 632,482" fill="none" stroke="#8a8a8c" stroke-width="0.5"/><text x="562.00" y="516.50" font-size="8.3" fill="#808082" text-anchor="middle" >61.6%</text><text x="675.00" y="524.00" font-size="8.3" fill="#808082" text-anchor="middle" >29.6%</text><polyline points="663,521.5 660,520.5 656,512" fill="none" stroke="#8a8a8c" stroke-width="0.5"/><rect x="438.30" y="570.00" width="3.2" height="3.2" fill="#a8c8ee"/><text x="443.50" y="574.30" font-size="7.6" fill="#808082" text-anchor="start" >新生児</text><rect x="485.90" y="570.00" width="3.2" height="3.2" fill="#8ab6e4"/><text x="491.10" y="574.30" font-size="7.6" fill="#808082" text-anchor="start" >乳幼児</text><rect x="530.80" y="570.00" width="3.2" height="3.2" fill="#428ad4"/><text x="536.00" y="574.30" font-size="7.6" fill="#808082" text-anchor="start" >少年</text><rect x="568.60" y="570.00" width="3.2" height="3.2" fill="#3d7dba"/><text x="573.80" y="574.30" font-size="7.6" fill="#808082" text-anchor="start" >成人</text><rect x="606.00" y="569.40" width="4.4" height="4.4" fill="#c03050"/><text x="611.80" y="574.30" font-size="7.6" fill="#808082" text-anchor="start" >高齢者</text></svg>
<div class="t" id="p2_0" style="left:26.50px;top:581.31px;font-size:9.8px;line-height:11.76px;letter-spacing:0.550px;">グラフ③を見ると、救急車で搬送された人のうち入院に至らない軽症者の割合は<span class="b">2023</span>年時点で<span class="b">48.5%</span>と約半数を占めていることが分かる。死亡者・</div>
<div class="t" id="p2_1" style="left:26.50px;top:593.87px;font-size:9.8px;line-height:11.76px;letter-spacing:0.724px;">重症者の人数はほとんど変化がないにも関わらず、中等症者や軽症者の人数は年々増えていて、このような軽症者による無駄な利用がなくなれば、</div>
<div class="t" id="p2_2" style="left:27.50px;top:606.43px;font-size:9.8px;line-height:11.76px;letter-spacing:0.615px;">救急車の搬送人員も半分になり、医療現場の負担も大きく減るだろうと考えられる。中には、救急車をいたずらで呼ぶような人もいるそうで、とて</div>
<div class="t" id="p2_3" style="left:26.50px;top:618.99px;font-size:9.8px;line-height:11.76px;letter-spacing:0.657px;">も驚いた。グラフ④を見ると、現在の救急車の搬送人員のうち約<span class="b">60%</span>を高齢者が占めているうえに、その高齢者の割合が<span class="b">20</span>年間で<span class="b">20%</span>も増加した</div>
<div class="t" id="p2_4" style="left:25.50px;top:631.55px;font-size:9.8px;line-height:11.76px;letter-spacing:0.647px;">ということが分かる。高齢者は健康問題のリスクが相対的に高い中で、これからも救急車を呼ぶ高齢者の人数は増えていき、それに伴って救急車の</div>
<div class="t" id="p2_5" style="left:27.00px;top:644.11px;font-size:9.8px;line-height:11.76px;letter-spacing:0.614px;">出動件数も増えていくだろうということが考えられる。</div>
<div class="box" style="left:13.5px;top:672.6px;width:713.3px;height:215.4px;border-radius:22px;"></div>
<div class="t" id="b3h" style="left:23.10px;top:681.40px;font-size:12.8px;line-height:15.36px;color:#4e4e50;letter-spacing:0.625px;">⑤救急車を呼んだ理由<span style="font-family:'Liberation Sans',sans-serif">(</span>複数回答可<span style="font-family:'Liberation Sans',sans-serif">)</span></div>
<svg width="739" height="1047" viewBox="0 0 739 1047" style="left:0;top:0;"><text x="181.20" y="713.70" font-size="8.4" fill="#808082" text-anchor="middle" >0</text><line x1="206.25" x2="206.25" y1="719" y2="862" stroke="#d3d3d3" stroke-width="0.7"/><text x="206.25" y="713.70" font-size="8.4" fill="#808082" text-anchor="middle" >10</text><line x1="231.30" x2="231.30" y1="719" y2="862" stroke="#d3d3d3" stroke-width="0.7"/><text x="231.30" y="713.70" font-size="8.4" fill="#808082" text-anchor="middle" >20</text><line x1="256.35" x2="256.35" y1="719" y2="862" stroke="#d3d3d3" stroke-width="0.7"/><text x="256.35" y="713.70" font-size="8.4" fill="#808082" text-anchor="middle" >30</text><line x1="281.40" x2="281.40" y1="719" y2="862" stroke="#d3d3d3" stroke-width="0.7"/><text x="281.40" y="713.70" font-size="8.4" fill="#808082" text-anchor="middle" >40</text><line x1="306.45" x2="306.45" y1="719" y2="862" stroke="#d3d3d3" stroke-width="0.7"/><text x="306.45" y="713.70" font-size="8.4" fill="#808082" text-anchor="middle" >50</text><line x1="331.50" x2="331.50" y1="719" y2="862" stroke="#d3d3d3" stroke-width="0.7"/><text x="331.50" y="713.70" font-size="8.4" fill="#808082" text-anchor="middle" >60</text><line x1="181.20" x2="181.20" y1="719" y2="862" stroke="#c8c8c8" stroke-width="0.7"/><rect x="181.20" y="725.40" width="130.76" height="5.0" fill="#3e87d2"/><text x="315.46" y="730.90" font-size="8.4" fill="#5e5e60" text-anchor="start" >52.2</text><text x="173.10" y="730.50" font-size="7.4" fill="#808082" text-anchor="end" >自力で動ける状態ではなかったから</text><rect x="181.20" y="739.52" width="104.46" height="5.0" fill="#3e87d2"/><text x="289.16" y="745.02" font-size="8.4" fill="#5e5e60" text-anchor="start" >41.7</text><text x="173.10" y="744.62" font-size="7.4" fill="#808082" text-anchor="end" >生命の危険があると思ったから</text><rect x="181.70" y="753.64" width="48.10" height="5.0" fill="#4a7cc4" stroke="#d04a6a" stroke-width="0.9"/><text x="233.30" y="759.14" font-size="8.4" fill="#5e5e60" text-anchor="start" >19.4</text><text x="173.10" y="758.74" font-size="7.4" fill="#808082" text-anchor="end" >症状が重いか軽いか分からないから</text><rect x="181.70" y="767.76" width="37.58" height="5.0" fill="#4a7cc4" stroke="#d04a6a" stroke-width="0.9"/><text x="222.78" y="773.26" font-size="8.4" fill="#5e5e60" text-anchor="start" >15.2</text><text x="173.10" y="772.86" font-size="7.4" fill="#808082" text-anchor="end" >夜間、休日で病院の診療時間外だったから</text><rect x="181.20" y="781.88" width="28.31" height="5.0" fill="#3e87d2"/><text x="213.01" y="787.38" font-size="8.4" fill="#5e5e60" text-anchor="start" >11.3</text><text x="173.10" y="786.98" font-size="7.4" fill="#808082" text-anchor="end" >交通事故だったから</text><rect x="181.70" y="796.00" width="27.31" height="5.0" fill="#4a7cc4" stroke="#d04a6a" stroke-width="0.9"/><text x="212.51" y="801.50" font-size="8.4" fill="#5e5e60" text-anchor="start" >11.1</text><text x="173.10" y="801.10" font-size="7.4" fill="#808082" text-anchor="end" >救急車の方が早く見てもらえるから</text><rect x="181.70" y="810.12" width="12.28" height="5.0" fill="#4a7cc4" stroke="#d04a6a" stroke-width="0.9"/><text x="197.48" y="815.62" font-size="8.4" fill="#5e5e60" text-anchor="start" >5.1</text><text x="173.10" y="815.22" font-size="7.4" fill="#808082" text-anchor="end" >どの病院に行けばいいか分からなかったから</text><rect x="181.70" y="824.24" width="8.02" height="5.0" fill="#4a7cc4" stroke="#d04a6a" stroke-width="0.9"/><text x="193.22" y="829.74" font-size="8.4" fill="#5e5e60" text-anchor="start" >3.4</text><text x="173.10" y="829.34" font-size="7.4" fill="#808082" text-anchor="end" >病院へ行く交通手段がなかったから</text><rect x="181.20" y="838.36" width="9.77" height="5.0" fill="#3e87d2"/><text x="194.47" y="843.86" font-size="8.4" fill="#5e5e60" text-anchor="start" >3.9</text><text x="173.10" y="843.46" font-size="7.4" fill="#808082" text-anchor="end" >その他</text><rect x="181.20" y="852.48" width="0.25" height="5.0" fill="#3e87d2"/><text x="184.95" y="857.98" font-size="8.4" fill="#5e5e60" text-anchor="start" >0.1</text><text x="173.10" y="857.58" font-size="7.4" fill="#808082" text-anchor="end" >分からない</text><text x="192.40" y="881.60" font-size="7.6" fill="#555" text-anchor="middle" >赤くなっている部分は必ずしも救急車が必要ではなかったと考えられる部分</text></svg>
<div class="t" id="p3_0" style="left:353.80px;top:686.11px;font-size:9.8px;line-height:11.76px;letter-spacing:0.559px;">グラフ⑤を見ると、中でも「症状が重いか軽いか分からなかった」が<span class="b">3</span>番目の</div>
<div class="t" id="p3_1" style="left:353.80px;top:698.71px;font-size:9.8px;line-height:11.76px;letter-spacing:0.348px;"><span class="b">20%</span>を占めている。<span class="b">#7119</span> (救急安心センター)や、<span class="b">#8000</span> (小児救急電話相談)</div>
<div class="t" id="p3_2" style="left:353.80px;top:711.31px;font-size:9.8px;line-height:11.76px;letter-spacing:0.758px;">などの医師や看護師が電話で症状を聞き緊急度を判断してくれる機関を利用</div>
<div class="t" id="p3_3" style="left:353.80px;top:723.91px;font-size:9.8px;line-height:11.76px;letter-spacing:0.758px;">すれば、このようなことは減るはずである。相談内容から緊急性が高いと判</div>
<div class="t" id="p3_4" style="left:353.80px;top:736.51px;font-size:9.8px;line-height:11.76px;letter-spacing:0.758px;">断された場合は迅速な救急出動につなぎ、緊急性が高くないと判断された場</div>
<div class="t" id="p3_5" style="left:353.80px;top:749.11px;font-size:9.8px;line-height:11.76px;letter-spacing:0.849px;">合は受診可能な医療機関や受診のタイミングについてアドバイスを行ってく</div>
<div class="t" id="p3_6" style="left:353.80px;top:761.71px;font-size:9.8px;line-height:11.76px;letter-spacing:0.757px;">れる。しかし、この機関はあまり知られていないと思われ、これらの知名度</div>
<div class="t" id="p3_7" style="left:352.60px;top:774.31px;font-size:9.8px;line-height:11.76px;letter-spacing:0.632px;">を上げる必要がある。</div>
<div class="t" id="p3_8" style="left:352.80px;top:786.91px;font-size:9.8px;line-height:11.76px;letter-spacing:0.788px;">また、グラフ④の部分でも書いたように、現在救急車で搬送されているのは</div>
<div class="t" id="p3_9" style="left:353.80px;top:799.51px;font-size:9.8px;line-height:11.76px;letter-spacing:0.852px;">約<span class="b">3</span>分の<span class="b">2</span>が高齢者である。ここから、「病院へ行く交通手段がなかった」と</div>
<div class="t" id="p3_10" style="left:353.80px;top:812.11px;font-size:9.8px;line-height:11.76px;letter-spacing:0.758px;">回答しているのはほとんどが身寄りのなく、車の運転ができない高齢者であ</div>
<div class="t" id="p3_11" style="left:352.60px;top:824.71px;font-size:9.8px;line-height:11.76px;letter-spacing:0.929px;">るのではないかと考えられる。</div>
<div class="t" id="p3_12" style="left:347.80px;top:837.31px;font-size:9.8px;line-height:11.76px;letter-spacing:0.640px;">「救急車の方が早く見てもらえるから」と回答している人は<span class="b">11.1%</span>いるが、こ</div>
<div class="t" id="p3_13" style="left:353.80px;top:849.91px;font-size:9.8px;line-height:11.76px;letter-spacing:0.969px;">の人たちは救急車をファストパスとして利用しているのと同じことであり、</div>
<div class="t" id="p3_14" style="left:353.80px;top:862.51px;font-size:9.8px;line-height:11.76px;letter-spacing:0.758px;">救急車が今どのような状況にあるのかということを広めなければいけないと</div>
<div class="t" id="p3_15" style="left:353.60px;top:875.11px;font-size:9.8px;line-height:11.76px;letter-spacing:0.597px;">思った。</div>
<div class="box" style="left:14.5px;top:898.5px;width:711.2px;height:94.6px;border-radius:20px;"></div>
<div class="t" id="mh" style="left:25.70px;top:908.96px;font-size:12.0px;line-height:14.40px;color:#4c4c4e;font-weight:300;letter-spacing:1.350px;">＜まとめ＞</div>
<div class="t" id="m0" style="left:23.90px;top:923.42px;font-size:13.3px;line-height:15.96px;color:#4c4c4e;font-weight:300;letter-spacing:0.246px;">(1)救急車の出動件数は年々増えていて、それに伴って現場到着時間も伸び続けている。</div>
<div class="t" id="m1" style="left:23.90px;top:939.82px;font-size:13.3px;line-height:15.96px;color:#4c4c4e;font-weight:300;letter-spacing:0.142px;">(2)救急車で搬送された人のうち軽症の人は約半数を占めていて、高齢者の割合も年々増え続けている。</div>
<div class="t" id="m2" style="left:23.90px;top:955.72px;font-size:13.3px;line-height:15.96px;color:#4c4c4e;font-weight:300;letter-spacing:0.202px;">(3)症状が重いか軽いか分からずに救急車を呼んだ人が多いので、#7119や#8000の知名度を上げるべきである。</div>
<div class="t" id="m3" style="left:52.10px;top:972.12px;font-size:13.3px;line-height:15.96px;color:#424244;font-weight:bold;letter-spacing:0.219px;">⇒<span style="text-decoration:underline;text-underline-offset:2px;text-decoration-thickness:1px">救急車をめぐる状況はとても危機的で、その状況をより多くの人に知ってもらう必要がある！</span></div>
<div style="position:absolute;left:456.2px;top:999.7px;width:270px;height:44px;border:1px solid #5a8aa6;box-sizing:border-box;background:#8cc6e2;"></div>
<div class="t" id="s0" style="left:460.50px;top:1004.00px;font-size:7.9px;line-height:9.48px;color:#50697a;letter-spacing:0.531px;">＜出典＞</div>
<div class="t" id="s1" style="left:460.50px;top:1013.80px;font-size:7.9px;line-height:9.48px;color:#50697a;letter-spacing:0.511px;">グラフ①：総務省「令和６年中の救急出動件数等（速報値）」の公表</div>
<div class="t" id="s2" style="left:460.50px;top:1023.10px;font-size:7.9px;line-height:9.48px;color:#50697a;letter-spacing:0.380px;">グラフ②・③・④：令和6年版消防庁「救急・救助の現況」</div>
<div class="t" id="s3" style="left:460.50px;top:1032.50px;font-size:7.9px;line-height:9.48px;color:#50697a;letter-spacing:0.430px;">グラフ⑤：平成29年度内閣府世論調査</div>
</div>
<div style="position:absolute;left:734px;top:0;width:5px;height:1047px;background:linear-gradient(90deg,rgba(236,247,252,0) 0px,rgba(236,247,252,0.35) 1.5px,rgba(240,249,253,0.95) 2.6px,#f0f9fd 5px);"></div>
<div style="position:absolute;left:0;top:1044px;width:739px;height:3px;background:linear-gradient(180deg,rgba(170,230,248,0.7),#b2eaf8 50%,#bcecf8);"></div>
</body></html>
